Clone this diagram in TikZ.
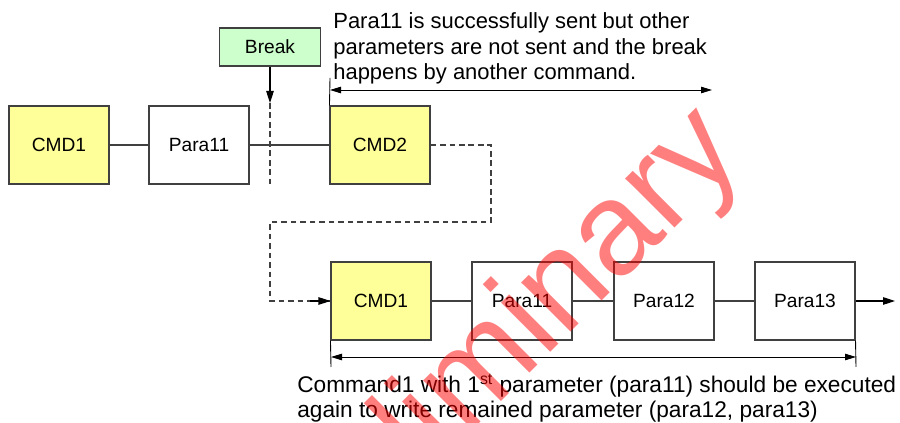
\documentclass[tikz,border=0pt]{standalone}
\usepackage{fontspec}
\setmainfont{Liberation Sans}
\usetikzlibrary{arrows.meta, positioning}

\definecolor{cmdyellow}{HTML}{FFFF99}
\definecolor{brkgreen}{HTML}{CCFFCC}
\definecolor{linegray}{HTML}{404040}

\begin{document}
\begin{tikzpicture}[
  box/.style      = {rectangle, draw=linegray, line width=0.6pt, minimum width=2cm,
                     minimum height=1.56cm, text centered,
                     font=\fontsize{10.9}{13}\selectfont},
  cmdbox/.style   = {box, fill=cmdyellow},
  brkbox/.style   = {box, fill=brkgreen, minimum width=2.02cm, minimum height=0.76cm},
  link/.style     = {linegray, line width=0.6pt},
  dashlink/.style = {link, dash pattern=on 3.2pt off 2.2pt},
  arr/.style      = {-{Triangle[length=2.4mm,width=1.5mm]}, black, line width=0.6pt},
  dim/.style      = {{Triangle[length=2.2mm,width=1.3mm]}-{Triangle[length=2.2mm,width=1.3mm]},
                     black, line width=0.5pt},
  note/.style     = {align=left, inner sep=0pt, font=\fontsize{12.5}{14.7}\selectfont},
  stamp/.style    = {anchor=base west, rotate=45, inner sep=0pt, text=red,
                     text opacity=0.5, font=\fontsize{75}{75}\selectfont}
]
\useasboundingbox (0,0) rectangle (18,8.46);

% first try: CMD2 breaks the transfer
\node[cmdbox] (cmdA)  at (1.18,5.56) {CMD1};
\node[box]    (paraA) at (3.98,5.56) {Para11};
\node[cmdbox] (cmdB)  at (7.6,5.56)  {CMD2};
\node[brkbox] (brk)   at (5.4,7.52)  {Break};

\coordinate (cut)    at (5.4,6.4);
\coordinate (cutend) at (5.4,4.78);

\draw[link] (cmdA) -- (paraA);
\draw[link] (paraA) -- (cmdB);
\draw[arr] (brk.south) -- (cut);
\draw[dashlink] (cut) -- (cutend);

% second try: CMD1 again with all parameters
\node[cmdbox] (cmdC)  at (7.62,2.44)  {CMD1};
\node[box]    (paraB) at (10.44,2.44) {Para11};
\node[box]    (paraC) at (13.28,2.44) {Para12};
\node[box]    (paraD) at (16.1,2.44)  {Para13};
\coordinate (out) at (17.9,2.44);

\draw[link] (cmdC) -- (paraB);
\draw[link] (paraB) -- (paraC);
\draw[link] (paraC) -- (paraD);
\draw[arr] (paraD.east) -- (out);

\coordinate (bendA) at (9.82,4.02);
\coordinate (bendB) at (5.4,4.02);
\draw[dashlink] (cmdB.east) -| (bendA) -- (bendB) |- (cmdC.west);
\draw[arr] ([xshift=-4mm]cmdC.west) -- (cmdC.west);

% dimension marks
\coordinate (topTick) at (6.6,6.9);
\coordinate (topEnd)  at (14.24,6.66);
\draw[black, line width=0.5pt] (cmdB.north west) -- (topTick);
\draw[dim] (6.6,6.66) -- (topEnd);

\coordinate (lowTickA) at (6.62,1.12);
\coordinate (lowTickB) at (17.12,1.12);
\draw[black, line width=0.5pt] (cmdC.south west) -- (lowTickA);
\draw[black, line width=0.5pt] (paraD.south east) -- (lowTickB);
\draw[dim] (6.62,1.32) -- (17.12,1.32);

\node[note, anchor=north west] (topNote) at (6.66,8.22)
  {Para11 is successfully sent but other\\
   parameters are not sent and the break\\
   happens by another command.};
\node[note, anchor=north west, font=\fontsize{12.9}{14.2}\selectfont] (lowNote) at (5.94,0.98)
  {Command1 with 1\textsuperscript{st} parameter (para11) should be executed\\
   again to write remained parameter (para12, para13)};

% watermark
\begin{scope}
  \clip (0,0) rectangle (18,8.46);
  \node[stamp] (mark) at (5.6,-4.0) {Preliminary};
\end{scope}
\end{tikzpicture}
\end{document}
